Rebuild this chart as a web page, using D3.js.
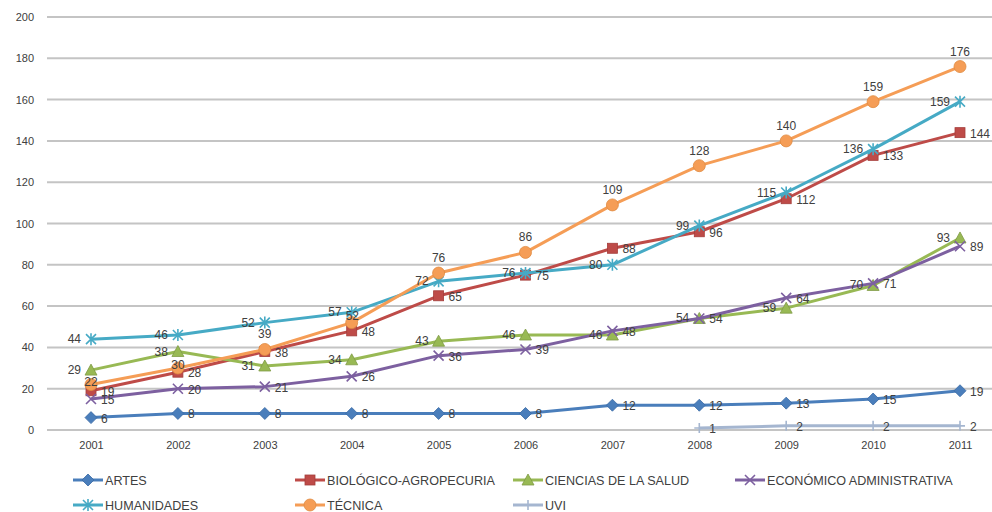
<!DOCTYPE html>
<html><head><meta charset="utf-8">
<script src="https://cdn.jsdelivr.net/npm/d3@7"></script>
<style>body{margin:0;background:#fff}svg{display:block}</style>
</head><body><svg id="c" width="992" height="512"></svg>
<script>
const years = ["2001","2002","2003","2004","2005","2006","2007","2008","2009","2010","2011"];
const yTicks = [0,20,40,60,80,100,120,140,160,180,200];
const seriesNames = ["ARTES","BIOLÓGICO-AGROPECURIA","CIENCIAS DE LA SALUD","ECONÓMICO ADMINISTRATIVA","HUMANIDADES","TÉCNICA","UVI"];
const artes = [6,8,8,8,8,8,12,12,13,15,19];
const biologico = [19,28,38,48,65,75,88,96,112,133,144];
const ciencias = [29,38,31,34,43,46,46,54,59,70,93];
const economico = [15,20,21,26,36,39,48,54,64,71,89];
const humanidades = [44,46,52,57,72,76,80,99,115,136,159];
const tecnica = [22,30,39,52,76,86,109,128,140,159,176];
const uvi = [null,null,null,null,null,null,null,1,2,2,2];
const colors = ["#4a7ebb","#be4b48","#98b954","#7d60a0","#46aac5","#f59d56","#a5b6d0"];
const markers = ["diamond","square","triangle","x","asterisk","circle","plus"];
const labelPos = ["right","right","left","right","left","top","right"];
const tecnicaLabelPos = ["center","center","top","upright","top","top","top","top","top","top","top"];
const allValues = [artes,biologico,ciencias,economico,humanidades,tecnica,uvi];

const svg = d3.select("#c");
const x = d3.scalePoint().domain(years).range([91,960]);
const y = d3.scaleLinear().domain([0,200]).range([430,17]);

svg.append("g").selectAll("line").data(yTicks).join("line")
  .attr("x1",47).attr("x2",992).attr("y1",d=>y(d)).attr("y2",d=>y(d))
  .attr("stroke","#c4c4c4").attr("stroke-width",2);

const yAxis = svg.append("g").attr("transform","translate(40,0)")
  .call(d3.axisLeft(y).tickValues(yTicks).tickSize(0).tickPadding(6));
yAxis.select(".domain").remove();
yAxis.selectAll("text").attr("font-family","Liberation Sans, Arial, sans-serif").attr("font-size",11).attr("fill","#404040");

const xAxis = svg.append("g").attr("transform","translate(0,441)")
  .call(d3.axisBottom(x).tickSize(0).tickPadding(0));
xAxis.select(".domain").remove();
xAxis.selectAll("text").attr("font-family","Liberation Sans Narrow, Liberation Sans, sans-serif").attr("font-size",11).attr("fill","#404040");

function drawMarker(g, type, color, cx, cy){
  const s = 5;
  if(type==="diamond"){
    g.append("path").attr("d",`M${cx},${cy-s-1}L${cx+s+1},${cy}L${cx},${cy+s+1}L${cx-s-1},${cy}Z`).attr("fill",color).attr("stroke","#3a6aa5").attr("stroke-width",0.8);
  } else if(type==="square"){
    g.append("rect").attr("x",cx-s).attr("y",cy-s).attr("width",2*s).attr("height",2*s).attr("fill",color).attr("stroke","#a43d3a").attr("stroke-width",0.8);
  } else if(type==="triangle"){
    g.append("path").attr("d",`M${cx},${cy-s-1}L${cx+s+1},${cy+s}L${cx-s-1},${cy+s}Z`).attr("fill",color).attr("stroke","#7f9a45").attr("stroke-width",0.8);
  } else if(type==="circle"){
    g.append("circle").attr("cx",cx).attr("cy",cy).attr("r",s+1).attr("fill",color).attr("stroke","#e08a40").attr("stroke-width",0.8);
  } else if(type==="x"){
    g.append("path").attr("d",`M${cx-s},${cy-s}L${cx+s},${cy+s}M${cx-s},${cy+s}L${cx+s},${cy-s}`).attr("stroke",color).attr("stroke-width",1.6);
  } else if(type==="asterisk"){
    g.append("path").attr("d",`M${cx-s},${cy-s}L${cx+s},${cy+s}M${cx-s},${cy+s}L${cx+s},${cy-s}M${cx},${cy-s-1}L${cx},${cy+s+1}`).attr("stroke",color).attr("stroke-width",1.6);
  } else if(type==="plus"){
    g.append("path").attr("d",`M${cx},${cy-s}L${cx},${cy+s}M${cx-s},${cy}L${cx+s},${cy}`).attr("stroke",color).attr("stroke-width",1.6);
  }
}

const line = d3.line().defined(d=>d.v!==null).x(d=>x(d.yr)).y(d=>y(d.v));
allValues.forEach((vals,i)=>{
  const g = svg.append("g");
  const pts = years.map((yr,j)=>({yr, v:vals[j]}));
  g.append("path").datum(pts).attr("d",line).attr("fill","none").attr("stroke",colors[i]).attr("stroke-width",3).attr("stroke-linejoin","round");
  pts.filter(p=>p.v!==null).forEach(p=>drawMarker(g, markers[i], colors[i], x(p.yr), y(p.v)));
});

allValues.forEach((vals,i)=>{
  const g = svg.append("g").attr("font-family","Liberation Sans, Arial, sans-serif").attr("font-size",12).attr("fill","#404040");
  years.forEach((yr,j)=>{
    const v = vals[j]; if(v===null) return;
    const cx = x(yr), cy = y(v);
    const t = g.append("text").text(v);
    const pos = vals===tecnica ? tecnicaLabelPos[j] : labelPos[i];
    if(pos==="right") t.attr("x",cx+10).attr("y",cy+5).attr("text-anchor","start");
    else if(pos==="upright") t.attr("x",cx-6).attr("y",cy-3).attr("text-anchor","start");
    else if(pos==="left") t.attr("x",cx-10).attr("y",cy+4).attr("text-anchor","end");
    else if(pos==="center") t.attr("x",cx).attr("y",cy+1).attr("text-anchor","middle");
    else t.attr("x",cx).attr("y",cy-11).attr("text-anchor","middle");
  });
});

const legendPos = [[73,480],[295,480],[513,480],[735,480],[73,505],[295,505],[513,505]];
seriesNames.forEach((n,i)=>{
  const [lx,ly] = legendPos[i];
  const g = svg.append("g");
  g.append("line").attr("x1",lx).attr("x2",lx+30).attr("y1",ly).attr("y2",ly).attr("stroke",colors[i]).attr("stroke-width",3);
  drawMarker(g, markers[i], colors[i], lx+15, ly);
  g.append("text").attr("x",lx+32).attr("y",ly+4.5).text(n)
    .attr("font-family","Liberation Sans, Arial, sans-serif").attr("font-size",12.6).attr("fill","#404040");
});
</script></body></html>
